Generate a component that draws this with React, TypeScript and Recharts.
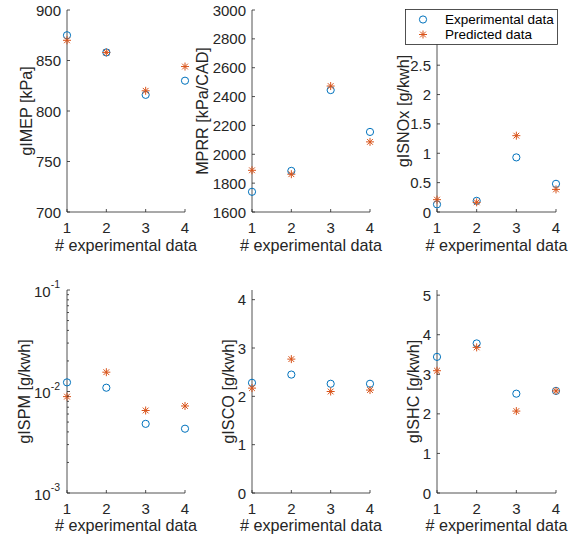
import React from 'react';
import { ScatterChart, Scatter, XAxis, YAxis, Legend } from 'recharts';

// ---------- data ----------
const categories = [1, 2, 3, 4];
const xTicks = [1, 2, 3, 4];

const gimepExp = [875, 858, 816, 830];
const gimepPred = [870, 858, 820, 844];
const gimepTicks = [700, 750, 800, 850, 900];

const mprrExp = [1740, 1885, 2445, 2155];
const mprrPred = [1889, 1862, 2473, 2086];
const mprrTicks = [1600, 1800, 2000, 2200, 2400, 2600, 2800, 3000];

const noxExp = [0.13, 0.19, 0.93, 0.48];
const noxPred = [0.21, 0.165, 1.3, 0.385];
const noxTicks = [0, 0.5, 1, 1.5, 2, 2.5, 3];

const pmExp = [0.0123, 0.0109, 0.0048, 0.0043];
const pmPred = [0.0089, 0.0155, 0.0065, 0.0072];
const pmTicks = [0.001, 0.01, 0.1];
const pmMinorTicks = [0.002, 0.003, 0.004, 0.005, 0.006, 0.007, 0.008, 0.009, 0.02, 0.03, 0.04, 0.05, 0.06, 0.07, 0.08, 0.09];
const pmExponents = ['-3', '-2', '-1'];

const coExp = [2.28, 2.45, 2.26, 2.26];
const coPred = [2.17, 2.77, 2.1, 2.13];
const coTicks = [0, 1, 2, 3, 4];

const hcExp = [3.44, 3.78, 2.51, 2.58];
const hcPred = [3.09, 3.68, 2.07, 2.58];
const hcTicks = [0, 1, 2, 3, 4, 5];

const seriesNames = ['Experimental data', 'Predicted data'];
const xLabel = '# experimental data';

// ---------- styles ----------
const FONT = '"Liberation Sans", Arial, Helvetica, sans-serif';
const AX = '#262626';
const BLUE = '#0072BD';
const ORANGE = '#D95319';
const TICK_FS = 15;
const LABEL_FS = 16.2;
const MAJ = 3;
const MIN = 2;
const TICK_GAP = 6;

const CircleShape = (props: any) => {
  const { cx, cy } = props;
  return <circle cx={cx} cy={cy} r={3.6} fill="none" stroke={BLUE} strokeWidth={1} />;
};

const StarShape = (props: any) => {
  const { cx, cy } = props;
  const r = 4;
  const d = r * 0.72;
  return (
    <g stroke={ORANGE} strokeWidth={1}>
      <line x1={cx - r} y1={cy} x2={cx + r} y2={cy} />
      <line x1={cx} y1={cy - r} x2={cx} y2={cy + r} />
      <line x1={cx - d} y1={cy - d} x2={cx + d} y2={cy + d} />
      <line x1={cx - d} y1={cy + d} x2={cx + d} y2={cy - d} />
    </g>
  );
};

type PanelProps = {
  left: number; top: number; width: number; height: number;
  plotLeft: number; plotTop: number; plotRight: number; plotBottom: number;
  yDomain: [number, number]; yTicks: number[]; yLabel: string; yLabelOffset: number;
  xLabelOffset: number;
  exp: number[]; pred: number[];
  log?: boolean; minorTicks?: number[]; exponents?: string[]; legend?: boolean;
};

function LegendBox() {
  return (
    <svg width={153} height={36} style={{ display: 'block' }}>
      <rect x={0.5} y={0.5} width={152} height={35} fill="#ffffff" stroke={AX} strokeWidth={0.8} />
      <CircleShape cx={18} cy={10.5} />
      <text x={40} y={10.5} dominantBaseline="central" fontSize={13.5} fontFamily={FONT} fill="#000">{seriesNames[0]}</text>
      <StarShape cx={18} cy={25.5} />
      <text x={40} y={25.5} dominantBaseline="central" fontSize={13.5} fontFamily={FONT} fill="#000">{seriesNames[1]}</text>
    </svg>
  );
}

function Panel(p: PanelProps) {
  const expData = categories.map((x, i) => ({ x, y: p.exp[i] }));
  const predData = categories.map((x, i) => ({ x, y: p.pred[i] }));
  const margin = { top: p.plotTop - p.top, right: p.left + p.width - p.plotRight, bottom: 0, left: 0 };
  const yAxisWidth = p.plotLeft - p.left;
  const xAxisHeight = p.top + p.height - p.plotBottom;
  const allY = p.log ? [...p.yTicks, ...(p.minorTicks || [])] : p.yTicks;
  const isMajor = (v: number) => p.yTicks.indexOf(v) >= 0;
  const axisLine = { stroke: AX, strokeWidth: 0.8 };

  const bottomTick = (t: any) => (
    <g>
      <line x1={t.x} y1={t.y} x2={t.x} y2={t.y - MAJ} stroke={AX} strokeWidth={0.8} />
      <text x={t.x} y={t.y + 15} textAnchor="middle" dominantBaseline="central" fontSize={TICK_FS} fontFamily={FONT} fill={AX}>
        {t.payload.value}
      </text>
    </g>
  );
  const topTick = (t: any) => (
    <line x1={t.x} y1={t.y} x2={t.x} y2={t.y + MAJ} stroke={AX} strokeWidth={0.8} />
  );
  const leftTick = (t: any) => {
    const v = t.payload.value;
    const major = isMajor(v);
    let label: any = null;
    if (major) {
      if (p.log) {
        const idx = p.yTicks.indexOf(v);
        label = (
          <text x={t.x - TICK_GAP - 1} y={t.y + 1} textAnchor="end" dominantBaseline="central" fontSize={TICK_FS} fontFamily={FONT} fill={AX}>
            10<tspan dy={-7} fontSize={10.5}>{(p.exponents || [])[idx]}</tspan>
          </text>
        );
      } else {
        label = (
          <text x={t.x - TICK_GAP} y={t.y} textAnchor="end" dominantBaseline="central" fontSize={TICK_FS} fontFamily={FONT} fill={AX}>
            {String(v)}
          </text>
        );
      }
    }
    return (
      <g>
        <line x1={t.x} y1={t.y} x2={t.x + (major ? MAJ : MIN)} y2={t.y} stroke={AX} strokeWidth={0.8} />
        {label}
      </g>
    );
  };
  const rightTick = (t: any) => {
    const major = isMajor(t.payload.value);
    return <line x1={t.x} y1={t.y} x2={t.x - (major ? MAJ : MIN)} y2={t.y} stroke={AX} strokeWidth={0.8} />;
  };

  const yLabelFn = (lp: any) => {
    const vb = lp.viewBox;
    const cx = vb.x + vb.width - p.yLabelOffset;
    const cy = vb.y + vb.height / 2;
    return (
      <text x={cx} y={cy} transform={`rotate(-90 ${cx} ${cy})`} textAnchor="middle" dominantBaseline="central" fontSize={LABEL_FS} fontFamily={FONT} fill={AX}>
        {p.yLabel}
      </text>
    );
  };
  const xLabelFn = (lp: any) => {
    const vb = lp.viewBox;
    const cx = vb.x + vb.width / 2;
    const cy = vb.y + p.xLabelOffset;
    return (
      <text x={cx} y={cy} textAnchor="middle" dominantBaseline="central" fontSize={LABEL_FS} fontFamily={FONT} fill={AX}>
        {xLabel}
      </text>
    );
  };

  return (
    <div style={{ position: 'absolute', left: p.left, top: p.top, width: p.width, height: p.height }}>
      <ScatterChart width={p.width} height={p.height} margin={margin}>
        <XAxis xAxisId="b" type="number" dataKey="x" domain={[1, 4]} ticks={xTicks} interval={0}
          tickSize={0} tickMargin={0} tickLine={false} axisLine={axisLine} height={xAxisHeight}
          tick={bottomTick} label={xLabelFn} />
        <XAxis xAxisId="t" orientation="top" type="number" dataKey="x" domain={[1, 4]} ticks={xTicks} interval={0}
          tickSize={0} tickMargin={0} tickLine={false} axisLine={axisLine} height={0}
          tick={topTick} />
        <YAxis yAxisId="l" type="number" dataKey="y" domain={p.yDomain} scale={p.log ? 'log' : 'linear'}
          ticks={allY} interval={0} width={yAxisWidth} tickSize={0} tickMargin={0} tickLine={false}
          axisLine={axisLine} tick={leftTick} label={yLabelFn} />
        <YAxis yAxisId="r" orientation="right" type="number" dataKey="y" domain={p.yDomain} scale={p.log ? 'log' : 'linear'}
          ticks={allY} interval={0} width={0} tickSize={0} tickMargin={0} tickLine={false}
          axisLine={axisLine} tick={rightTick} />
        <Scatter name={seriesNames[0]} xAxisId="b" yAxisId="l" data={expData} dataKey="y" shape={CircleShape} isAnimationActive={false} />
        <Scatter name={seriesNames[1]} xAxisId="b" yAxisId="l" data={predData} dataKey="y" shape={StarShape} isAnimationActive={false} />
        {p.legend ? (
          <Legend layout="vertical" align="center" verticalAlign="middle" content={() => <LegendBox />}
            wrapperStyle={{ position: 'absolute', left: 25, top: 8.5, width: 153, height: 36, zIndex: 5 }} />
        ) : null}
      </ScatterChart>
    </div>
  );
}

export default function App() {
  const top = { top: 0, height: 260, plotTop: 10, plotBottom: 212, xLabelOffset: 33 };
  const bot = { top: 260, height: 277, plotTop: 290, plotBottom: 493, xLabelOffset: 32 };
  const c1 = { left: 0, width: 190, plotLeft: 67, plotRight: 185 };
  const c2 = { left: 190, width: 190, plotLeft: 252, plotRight: 370 };
  const c3 = { left: 380, width: 196, plotLeft: 437, plotRight: 556 };
  return (
    <div style={{ position: 'absolute', left: 0, top: 0, width: 576, height: 537, background: '#fff', fontFamily: FONT }}>
      <style>{'.recharts-surface{overflow:visible !important;} .recharts-wrapper{overflow:visible !important;}'}</style>
      <Panel {...top} {...c1} yDomain={[700, 900]} yTicks={gimepTicks} yLabel="gIMEP [kPa]" yLabelOffset={41} exp={gimepExp} pred={gimepPred} />
      <Panel {...top} {...c2} yDomain={[1600, 3000]} yTicks={mprrTicks} yLabel="MPRR [kPa/CAD]" yLabelOffset={50.5} exp={mprrExp} pred={mprrPred} />
      <Panel {...top} {...c3} yDomain={[0, 3.44]} yTicks={noxTicks} yLabel="gISNOx [g/kwh]" yLabelOffset={34.5} exp={noxExp} pred={noxPred} legend />
      <Panel {...bot} {...c1} yDomain={[0.001, 0.1]} yTicks={pmTicks} minorTicks={pmMinorTicks} exponents={pmExponents} log yLabel="gISPM [g/kwh]" yLabelOffset={43.5} exp={pmExp} pred={pmPred} />
      <Panel {...bot} {...c2} yDomain={[0, 4.2]} yTicks={coTicks} yLabel="gISCO [g/kwh]" yLabelOffset={24.5} exp={coExp} pred={coPred} />
      <Panel {...bot} {...c3} yDomain={[0, 5.13]} yTicks={hcTicks} yLabel="gISHC [g/kwh]" yLabelOffset={24} exp={hcExp} pred={hcPred} />
    </div>
  );
}
